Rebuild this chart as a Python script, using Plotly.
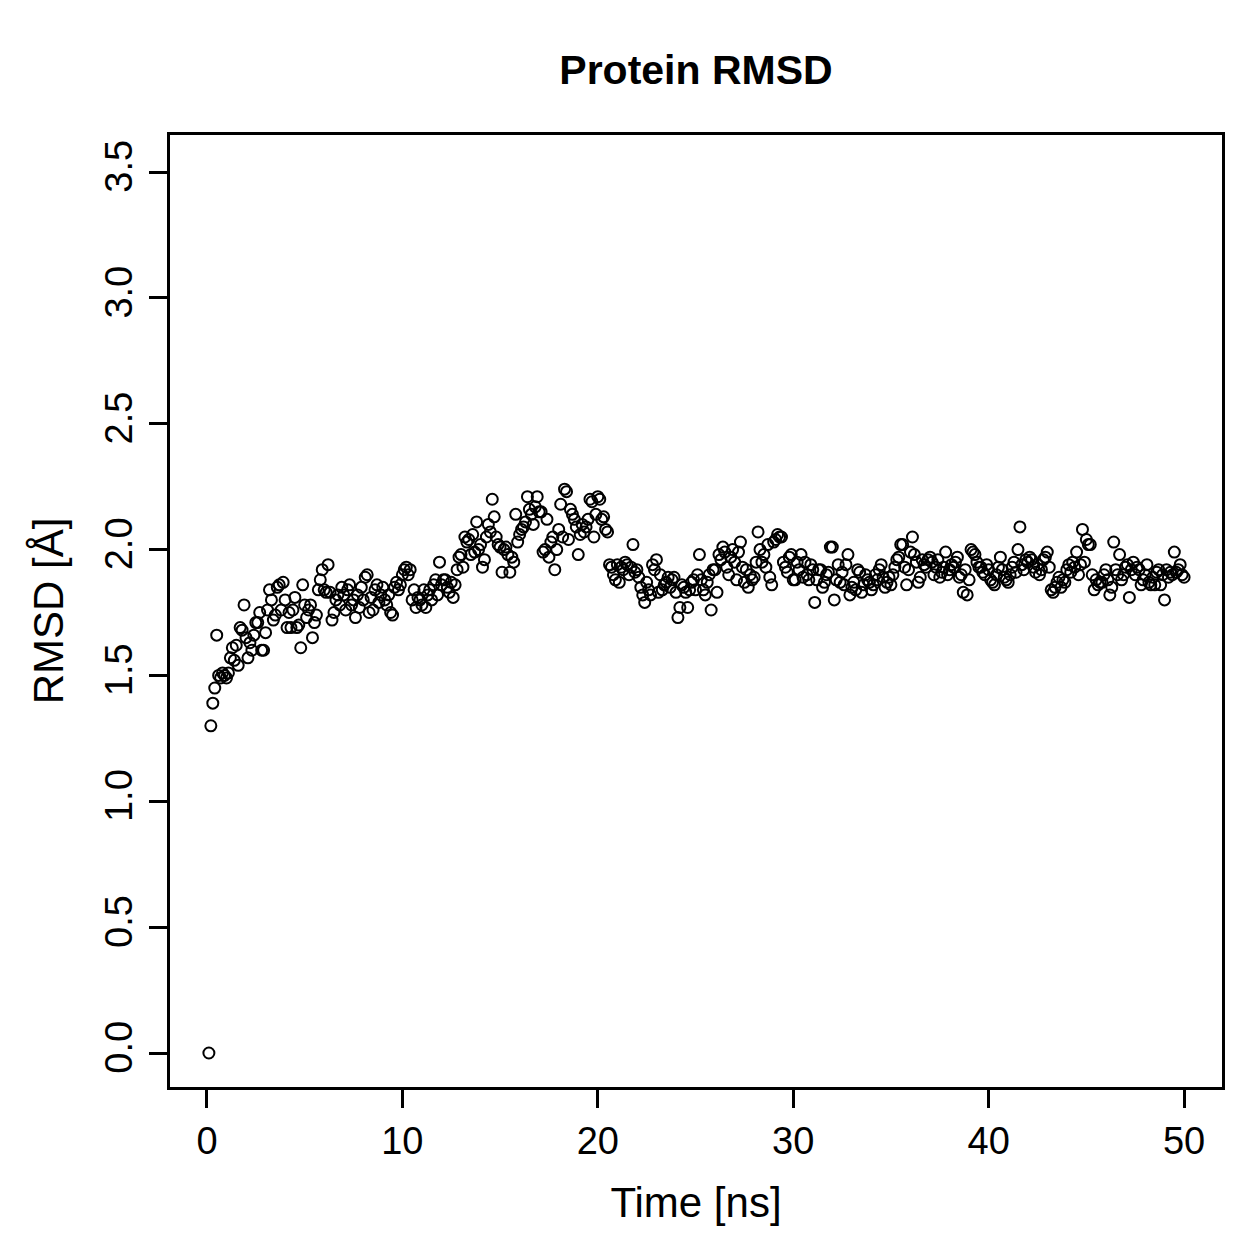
import plotly.graph_objects as go

time_ns = [round(0.1 * i, 1) for i in range(1, 501)]

rmsd = [
    0.00, 1.30, 1.39, 1.45, 1.66, 1.50, 1.49, 1.51, 1.50, 1.49,
    1.51, 1.57, 1.61, 1.56, 1.62, 1.54, 1.69, 1.68, 1.78, 1.65,
    1.57, 1.63, 1.60, 1.66, 1.71, 1.71, 1.75, 1.60, 1.60, 1.67,
    1.76, 1.84, 1.80, 1.72, 1.74, 1.85, 1.86, 1.76, 1.87, 1.80,
    1.69, 1.75, 1.69, 1.76, 1.81, 1.69, 1.70, 1.61, 1.86, 1.78,
    1.73, 1.76, 1.78, 1.65, 1.71, 1.74, 1.84, 1.88, 1.92, 1.84,
    1.83, 1.94, 1.83, 1.72, 1.75, 1.80, 1.82, 1.78, 1.85, 1.82,
    1.76, 1.84, 1.86, 1.78, 1.80, 1.73, 1.82, 1.77, 1.85, 1.80,
    1.89, 1.90, 1.75, 1.81, 1.76, 1.84, 1.86, 1.79, 1.82, 1.85,
    1.80, 1.78, 1.82, 1.75, 1.74, 1.85, 1.87, 1.84, 1.86, 1.90,
    1.92, 1.93, 1.90, 1.92, 1.80, 1.84, 1.77, 1.81, 1.80, 1.78,
    1.84, 1.77, 1.82, 1.84, 1.80, 1.86, 1.88, 1.82, 1.95, 1.86,
    1.88, 1.88, 1.85, 1.83, 1.87, 1.81, 1.86, 1.92, 1.97, 1.98,
    1.93, 2.05, 2.03, 2.04, 1.98, 2.06, 1.99, 2.11, 2.00, 2.02,
    1.93, 1.96, 2.05, 2.10, 2.07, 2.20, 2.13, 2.05, 2.02, 2.01,
    1.91, 2.00, 2.01, 1.98, 1.91, 1.97, 1.95, 2.14, 2.03, 2.06,
    2.08, 2.09, 2.11, 2.21, 2.16, 2.14, 2.10, 2.17, 2.21, 2.15,
    2.15, 1.99, 2.00, 2.12, 1.97, 2.03, 2.05, 1.92, 2.00, 2.08,
    2.18, 2.05, 2.24, 2.23, 2.04, 2.16, 2.14, 2.12, 2.09, 1.98,
    2.06, 2.10, 2.07, 2.09, 2.12, 2.20, 2.19, 2.05, 2.14, 2.21,
    2.20, 2.12, 2.13, 2.08, 2.07, 1.94, 1.93, 1.90, 1.88, 1.94,
    1.87, 1.93, 1.92, 1.95, 1.94, 1.90, 1.93, 2.02, 1.91, 1.92,
    1.89, 1.85, 1.82, 1.79, 1.87, 1.84, 1.82, 1.94, 1.92, 1.96,
    1.83, 1.90, 1.84, 1.86, 1.87, 1.89, 1.85, 1.88, 1.89, 1.83,
    1.73, 1.77, 1.86, 1.85, 1.83, 1.77, 1.84, 1.87, 1.88, 1.84,
    1.90, 1.98, 1.88, 1.84, 1.82, 1.87, 1.90, 1.76, 1.92, 1.92,
    1.83, 1.98, 1.96, 2.01, 1.99, 1.93, 1.90, 1.97, 2.00, 1.95,
    1.88, 1.99, 2.03, 1.93, 1.87, 1.92, 1.85, 1.90, 1.88, 1.89,
    1.95, 2.07, 2.00, 1.95, 1.98, 1.93, 2.02, 1.89, 1.86, 2.03,
    2.04, 2.06, 2.05, 2.05, 1.95, 1.93, 1.91, 1.97, 1.98, 1.88,
    1.88, 1.95, 1.92, 1.98, 1.89, 1.95, 1.90, 1.88, 1.94, 1.92,
    1.79, 1.88, 1.92, 1.92, 1.85, 1.87, 1.90, 1.91, 2.01, 2.01,
    1.80, 1.88, 1.94, 1.87, 1.91, 1.86, 1.94, 1.98, 1.82, 1.85,
    1.87, 1.84, 1.92, 1.91, 1.83, 1.86, 1.90, 1.88, 1.87, 1.84,
    1.86, 1.90, 1.88, 1.92, 1.94, 1.89, 1.85, 1.87, 1.89, 1.86,
    1.90, 1.93, 1.96, 1.97, 2.02, 2.02, 1.93, 1.86, 1.92, 1.99,
    2.05, 1.98, 1.95, 1.87, 1.89, 1.96, 1.94, 1.93, 1.96, 1.97,
    1.95, 1.90, 1.93, 1.96, 1.89, 1.91, 1.93, 1.99, 1.90, 1.92,
    1.94, 1.93, 1.95, 1.97, 1.89, 1.90, 1.83, 1.92, 1.82, 1.88,
    2.00, 1.99, 1.98, 1.95, 1.93, 1.93, 1.91, 1.90, 1.94, 1.92,
    1.88, 1.87, 1.86, 1.90, 1.93, 1.97, 1.92, 1.89, 1.88, 1.87,
    1.90, 1.93, 1.95, 1.91, 2.00, 2.09, 1.94, 1.92, 1.96, 1.95,
    1.97, 1.96, 1.93, 1.91, 1.94, 1.90, 1.92, 1.96, 1.97, 1.99,
    1.93, 1.84, 1.83, 1.85, 1.87, 1.89, 1.85, 1.88, 1.87, 1.92,
    1.94, 1.91, 1.95, 1.93, 1.99, 1.90, 1.94, 2.08, 1.95, 2.04,
    2.02, 2.02, 1.90, 1.84, 1.88, 1.86, 1.87, 1.87, 1.90, 1.92,
    1.88, 1.82, 1.85, 2.03, 1.92, 1.90, 1.98, 1.88, 1.90, 1.93,
    1.94, 1.81, 1.92, 1.95, 1.90, 1.93, 1.92, 1.86, 1.88, 1.90,
    1.94, 1.87, 1.86, 1.89, 1.86, 1.91, 1.92, 1.86, 1.90, 1.80,
    1.92, 1.89, 1.91, 1.90, 1.99, 1.91, 1.92, 1.94, 1.90, 1.89,
]

x_ticks = [0, 10, 20, 30, 40, 50]
y_ticks = [0.0, 0.5, 1.0, 1.5, 2.0, 2.5, 3.0, 3.5]
y_tick_text = ["0.0", "0.5", "1.0", "1.5", "2.0", "2.5", "3.0", "3.5"]

font = "Liberation Sans, Arial, Helvetica, sans-serif"

fig = go.Figure()
fig.add_trace(go.Scatter(
    x=time_ns, y=rmsd, mode="markers",
    marker=dict(symbol="circle-open", size=11, color="black",
                line=dict(color="black", width=2)),
    showlegend=False,
))

axis_common = dict(
    showline=True, mirror=True, linecolor="black", linewidth=3,
    ticks="outside", ticklen=18, tickwidth=3, tickcolor="black",
    showgrid=False, zeroline=False,
    tickfont=dict(family=font, size=38, color="black"),
)

fig.update_layout(
    width=1259, height=1259,
    margin=dict(l=170, r=37, t=135, b=172),
    paper_bgcolor="white", plot_bgcolor="white",
    title=dict(text="<b>Protein RMSD</b>", x=0.5528, xanchor="center",
               y=1 - 70 / 1259, yanchor="middle",
               font=dict(family=font, size=41, color="black")),
    xaxis=dict(range=[-1.89, 51.94], tickvals=x_ticks,
               title=dict(text="Time [ns]", standoff=28,
                          font=dict(family=font, size=42, color="black")),
               ticklabelstandoff=0,
               **axis_common),
    yaxis=dict(range=[-0.135, 3.647], tickvals=y_ticks, ticktext=y_tick_text,
               tickangle=-90,
               title=dict(text="RMSD [Å]", standoff=22,
                          font=dict(family=font, size=42, color="black")),
               ticklabelstandoff=2,
               **axis_common),
)

fig.write_html("out.html")
